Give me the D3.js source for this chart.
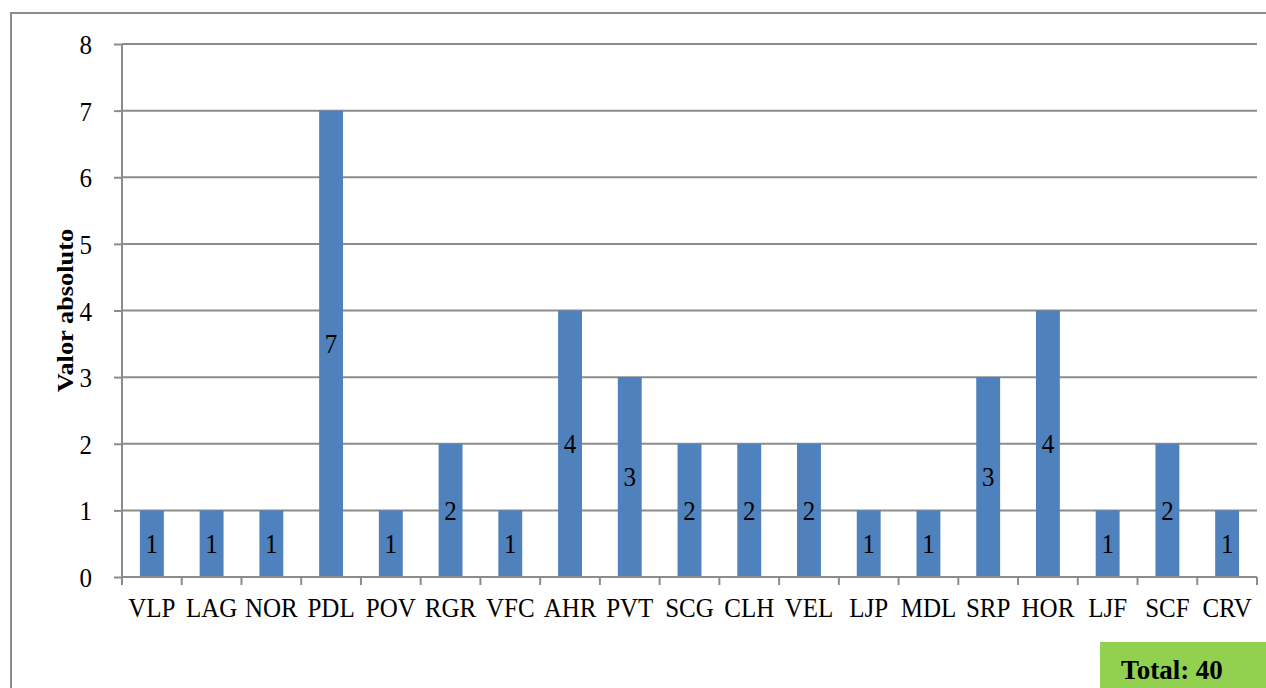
<!DOCTYPE html>
<html><head><meta charset="utf-8">
<script src="https://cdn.jsdelivr.net/npm/d3@7"></script>
<style>
html,body{margin:0;padding:0;background:#fff;overflow:hidden;}
svg{display:block;}
text{font-family:"Liberation Serif","Times New Roman",serif;fill:#000;}
</style></head>
<body>
<svg id="chart" width="1266" height="688"></svg>
<script>
const categories = ["VLP","LAG","NOR","PDL","POV","RGR","VFC","AHR","PVT","SCG","CLH","VEL","LJP","MDL","SRP","HOR","LJF","SCF","CRV"];
const values = [1,1,1,7,1,2,1,4,3,2,2,2,1,1,3,4,1,2,1];
const yTicks = [0,1,2,3,4,5,6,7,8];
const yLabel = "Valor absoluto";
const totalLabel = "Total: 40";

const svg = d3.select("#chart");
const pLeft = 122, pRight = 1257, pTop = 44, pBottom = 577;
const gridColor = "#8c8c8c";
const stretch = 1.08;

// outer frame
svg.append("rect").attr("x",11).attr("y",13).attr("width",1300).attr("height",700)
  .attr("fill","none").attr("stroke","#8c8c8c").attr("stroke-width",2);

const x = d3.scaleBand().domain(categories).range([pLeft,pRight]).paddingInner(0.6).paddingOuter(0.3);
const y = d3.scaleLinear().domain([0,8]).range([pBottom,pTop]);

// gridlines
svg.append("g").selectAll("line").data(yTicks.filter(d=>d>0)).join("line")
  .attr("x1",pLeft).attr("x2",pRight).attr("y1",d=>y(d)).attr("y2",d=>y(d))
  .attr("stroke",gridColor).attr("stroke-width",2);

// y axis
const yAxis = svg.append("g").attr("transform",`translate(${pLeft},0)`)
  .call(d3.axisLeft(y).tickValues(yTicks).tickSize(8).tickPadding(22).tickFormat(d3.format("d")));
yAxis.select(".domain").attr("stroke",gridColor).attr("stroke-width",2).attr("d",`M0,${pTop}V${pBottom}`);
yAxis.selectAll(".tick line").attr("stroke",gridColor).attr("stroke-width",2);
yAxis.selectAll(".tick text").attr("font-size",25).attr("fill","#000")
  .attr("dy","0.34em").attr("transform",`scale(1,1.12)`);

// bars
svg.append("g").selectAll("rect").data(values).join("rect")
  .attr("x",(d,i)=>x(categories[i])).attr("width",x.bandwidth())
  .attr("y",d=>y(d)).attr("height",d=>y(0)-y(d))
  .attr("fill","#4f81bd");

// x axis with boundary ticks
const bounds = d3.range(categories.length+1).map(i=>pLeft + i*(pRight-pLeft)/categories.length);
svg.append("line").attr("x1",pLeft).attr("x2",pRight).attr("y1",pBottom).attr("y2",pBottom)
  .attr("stroke",gridColor).attr("stroke-width",2);
svg.append("g").selectAll("line").data(bounds).join("line")
  .attr("x1",d=>d).attr("x2",d=>d).attr("y1",pBottom).attr("y2",pBottom+8)
  .attr("stroke",gridColor).attr("stroke-width",2);
svg.append("g").selectAll("text").data(categories).join("text")
  .attr("transform",d=>`translate(${x(d)+x.bandwidth()/2},${pBottom+40}) scale(1,${stretch})`)
  .attr("text-anchor","middle").attr("font-size",25).text(d=>d);

// data labels
svg.append("g").selectAll("text").data(values).join("text")
  .attr("transform",(d,i)=>`translate(${x(categories[i])+x.bandwidth()/2},${(y(d)+y(0))/2}) scale(1,${stretch})`)
  .attr("dy","0.34em")
  .attr("text-anchor","middle").attr("font-size",25).text(d=>d);

// y label
svg.append("text").attr("transform",`translate(73,${(pTop+pBottom)/2}) scale(1,1.1) rotate(-90)`)
  .attr("text-anchor","middle").attr("font-size",24).attr("font-weight","bold").text(yLabel);

// total box
svg.append("rect").attr("x",1100).attr("y",642).attr("width",170).attr("height",50).attr("fill","#92d050");
svg.append("text").attr("x",1172).attr("y",679).attr("text-anchor","middle")
  .attr("font-size",27).attr("font-weight","bold").text(totalLabel);
</script>
</body></html>
